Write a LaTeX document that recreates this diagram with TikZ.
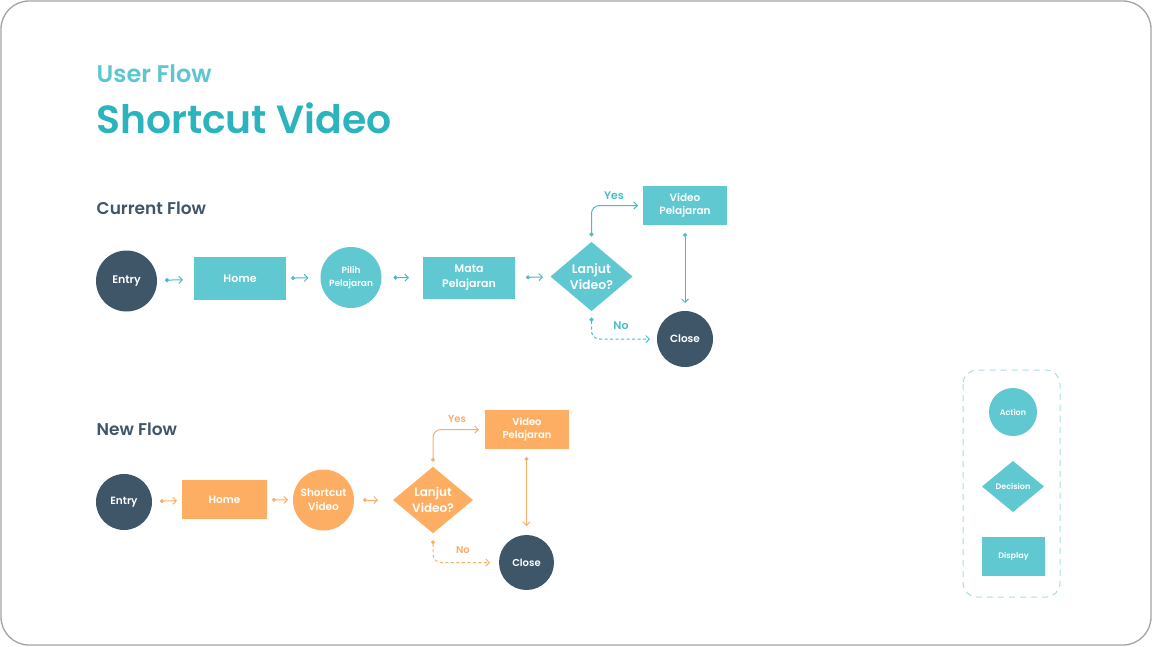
\documentclass[tikz,border=0pt]{standalone}
\usepackage{fontspec}
\setmainfont{Poppins}
\newfontfamily\psemi{Poppins SemiBold}
\newfontfamily\pmed{Poppins Medium}
\usetikzlibrary{shapes.geometric,arrows.meta}
\newcommand\fsz[2]{\fontsize{#1}{#2}\selectfont}
\definecolor{tealN}{HTML}{5FC8D0}
\definecolor{tealL}{HTML}{45BEC7}
\definecolor{tealT}{HTML}{2BB4BD}
\definecolor{tealU}{HTML}{5CC7CF}
\definecolor{darkN}{HTML}{3F5669}
\definecolor{orgN}{HTML}{FDAE62}
\definecolor{orgL}{HTML}{FBAD66}
\definecolor{legB}{HTML}{A9DDE2}
\definecolor{frameC}{HTML}{A3A3A3}
\tikzset{
  nd/.style={text=white, align=center, inner sep=0pt, outer sep=0pt},
  crc/.style={nd, circle, minimum size=#1},
  box/.style 2 args={nd, rectangle, minimum width=#1, minimum height=#2},
  dia/.style 2 args={nd, diamond, minimum width=#1, minimum height=#2},
  link/.style={draw=#1, line width=1pt, {Circle[length=4pt]}-{Straight Barb[length=3.5pt,width=7pt]}},
  dlink/.style={link=#1, dash pattern=on 3pt off 2.5pt},
  lab/.style={inner sep=0pt, font=\psemi\fsz{#1}{#1}},
}
\begin{document}
\begin{tikzpicture}[x=1pt,y=-1pt]
\useasboundingbox (0,0) rectangle (1152,646);
\draw[frameC, line width=1.3pt, rounded corners=28pt] (1,1) rectangle (1151,645);

% titles
\node[anchor=base west, inner sep=0pt, text=tealU, font=\psemi\fsz{24}{24}] (t1) at (96.5,82) {User Flow};
\node[anchor=base west, inner sep=0pt, text=tealT, font=\psemi\fsz{39.3}{40}] (t2) at (96,133.5) {Shortcut Video};
\node[anchor=base west, inner sep=0pt, text=darkN, font=\psemi\fsz{17}{17}] (t3) at (96.5,214) {Current Flow};
\node[anchor=base west, inner sep=0pt, text=darkN, font=\psemi\fsz{17}{17}] (t4) at (96.5,435) {New Flow};

% current flow
\node[crc=61pt, fill=darkN, font=\psemi\fsz{11}{14}] (e1) at (126.5,281) {Entry};
\node[box={92pt}{43pt}, fill=tealN, font=\psemi\fsz{11}{14}] (h1) at (240,278.5) {Home};
\node[crc=61pt, fill=tealN, font=\psemi\fsz{9}{13.3}] (p1) at (351,277.5) {Pilih\\Pelajaran};
\node[box={92pt}{42pt}, fill=tealN, font=\psemi\fsz{11}{15}] (m1) at (469,278) {Mata\\Pelajaran};
\node[dia={82pt}{67pt}, fill=tealN, font=\psemi\fsz{12.5}{16}] (d1) at (591.5,276.5) {Lanjut\\Video?};
\node[box={84pt}{39pt}, fill=tealN, font=\psemi\fsz{10.5}{13.5}] (v1) at (685,205.5) {Video\\Pelajaran};
\node[crc=56pt, fill=darkN, font=\psemi\fsz{10.5}{13}] (c1) at (685,339) {Close};

\draw[link=tealL, shorten <=8pt, shorten >=11pt] (e1) -- (h1);
\draw[link=tealL, shorten <=5pt, shorten >=12pt] (h1) -- (p1);
\draw[link=tealL, shorten <=12pt, shorten >=14pt] (p1) -- (m1);
\draw[link=tealL, shorten <=11pt, shorten >=8pt] (m1) -- (d1);
\draw[link=tealL, shorten <=5.5pt, shorten >=5pt, rounded corners=8pt] (d1.north) |- (v1.west);
\draw[dlink=tealL, shorten <=6.5pt, shorten >=7pt, rounded corners=8pt] (d1.south) |- (c1.west);
\draw[link=tealL, shorten <=8pt, shorten >=8pt] (v1.south -| c1.north) -- (c1.north);
\node[lab=11, text=tealL] (y1) at (614,196) {Yes};
\node[lab=11, text=tealL] (n1) at (621,326) {No};

% new flow
\node[crc=56pt, fill=darkN, font=\psemi\fsz{10.5}{13}] (e2) at (124,502) {Entry};
\node[box={85pt}{39pt}, fill=orgN, font=\psemi\fsz{10.5}{13}] (h2) at (224.5,499.5) {Home};
\node[crc=61pt, fill=orgN, font=\psemi\fsz{10.5}{14.3}] (s2) at (323.5,500) {Shortcut\\Video};
\node[dia={80pt}{66pt}, fill=orgN, font=\psemi\fsz{12}{15.5}] (d2) at (433,500) {Lanjut\\Video?};
\node[box={84pt}{39pt}, fill=orgN, font=\psemi\fsz{10}{13.3}] (v2) at (527,429.5) {Video\\Pelajaran};
\node[crc=55pt, fill=darkN, font=\psemi\fsz{10}{13}] (c2) at (526.5,562.5) {Close};

\draw[link=orgL, shorten <=8pt, shorten >=5pt] (e2) -- (h2);
\draw[link=orgL, shorten <=5pt, shorten >=5pt] (h2) -- (s2);
\draw[link=orgL, shorten <=9pt, shorten >=15pt] (s2) -- (d2);
\draw[link=orgL, shorten <=5pt, shorten >=6pt, rounded corners=8pt] (d2.north) |- (v2.west);
\draw[dlink=orgL, shorten <=7pt, shorten >=9pt, rounded corners=8pt] (d2.south) |- (c2.west);
\draw[link=orgL, shorten <=8pt, shorten >=9pt] (v2.south -| c2.north) -- (c2.north);
\node[lab=10, text=orgL] (y2) at (457,419.5) {Yes};
\node[lab=10, text=orgL] (n2) at (463,550) {No};

% legend
\draw[legB, line width=1pt, dash pattern=on 6pt off 5pt, rounded corners=14pt] (963,370) rectangle (1060,597);
\node[crc=48pt, fill=tealN, font=\psemi\fsz{8}{10}] (la) at (1013,412) {Action};
\node[dia={62pt}{51pt}, fill=tealN, font=\psemi\fsz{8}{10}] (ld) at (1013,486.5) {Decision};
\node[box={63pt}{39pt}, fill=tealN, font=\psemi\fsz{8}{10}] (lr) at (1013.5,556.5) {Display};
\end{tikzpicture}
\end{document}
